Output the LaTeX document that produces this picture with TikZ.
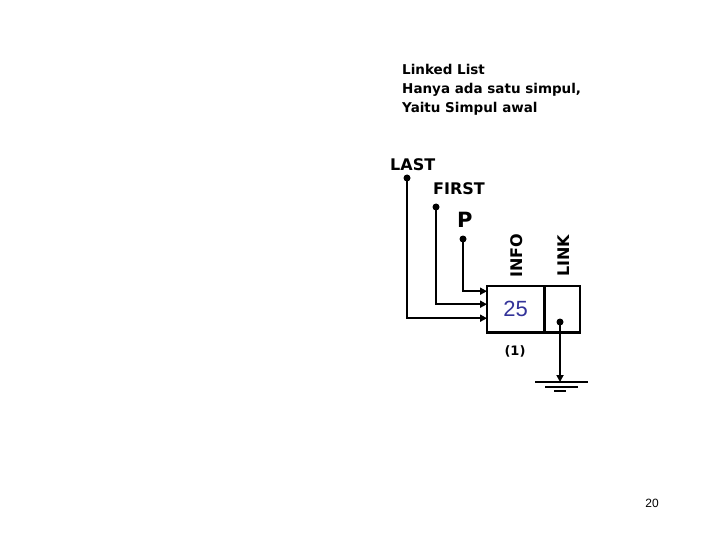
\documentclass[tikz,border=0pt]{standalone}
\usepackage{fontspec}
\setmainfont{DejaVu Sans}
\newfontfamily\lib{Liberation Sans}
\usetikzlibrary{arrows.meta}
\definecolor{numblue}{RGB}{51,51,153}
\tikzset{
  wire/.style={line width=2.4pt},
  arr/.style={wire,-{Triangle[length=7pt,width=7pt]}},
  dot/.style={circle,fill=black,inner sep=0pt,minimum size=7pt},
  lbl/.style={font=\bfseries\fontsize{16}{16}\selectfont,inner sep=0pt},
  cell/.style={minimum height=46pt,inner sep=0pt},
}
\begin{document}
\begin{tikzpicture}[x=1pt,y=-1pt]
\useasboundingbox (0,0) rectangle (720,540);
% title
\node[anchor=north west,align=left,inner sep=0pt,font=\bfseries\fontsize{13.5}{19}\selectfont] (title) at (402,64)
  {Linked List\\Hanya ada satu simpul,\\Yaitu Simpul awal};
% labels
\node[lbl,anchor=base west] (last) at (390,171) {LAST};
\node[lbl,anchor=base west] (first) at (433,195) {FIRST};
\node[font=\bfseries\fontsize{21}{21}\selectfont,inner sep=0pt,anchor=base west] (p) at (457,227) {P};
\node[lbl,rotate=90,anchor=west] (info) at (517,278) {INFO};
\node[lbl,rotate=90,anchor=west] (link) at (564,277) {LINK};
% box
\node[cell,minimum width=57pt,anchor=north west] (infocell) at (487,286) {};
\node[cell,minimum width=35pt,anchor=west] (linkcell) at (infocell.east) {};
\draw[wire] (infocell.north west) rectangle (linkcell.south east);
\draw[wire] (infocell.north east) -- (infocell.south east);
\node[font=\lib\fontsize{22}{22}\selectfont,text=numblue] (val) at (infocell.center) {25};
\node[font=\bfseries\fontsize{13}{13}\selectfont] (num) at (515,351) {(1)};
% pointer dots
\node[dot] (dlast) at (407,178) {};
\node[dot] (dfirst) at (436,207) {};
\node[dot] (dp) at (463,239) {};
\node[dot] (dlink) at (560,322) {};
% pointers
\draw[arr] (dp.center) |- ([yshift=18pt]infocell.west);
\draw[arr] (dfirst.center) |- ([yshift=5pt]infocell.west);
\draw[arr] (dlast.center) |- ([yshift=-9pt]infocell.west);
% ground
\coordinate (g) at (560,382);
\draw[arr] (dlink.center) -- (g);
\draw[wire] ([xshift=-25pt]g) -- ([xshift=28pt]g);
\draw[wire] ([xshift=-15pt,yshift=-5pt]g) -- ([xshift=18pt,yshift=-5pt]g);
\draw[wire] ([xshift=-6pt,yshift=-9pt]g) -- ([xshift=6pt,yshift=-9pt]g);
% page number
\node[font=\lib\fontsize{12}{12}\selectfont] (page) at (652,503) {20};
\end{tikzpicture}
\end{document}
